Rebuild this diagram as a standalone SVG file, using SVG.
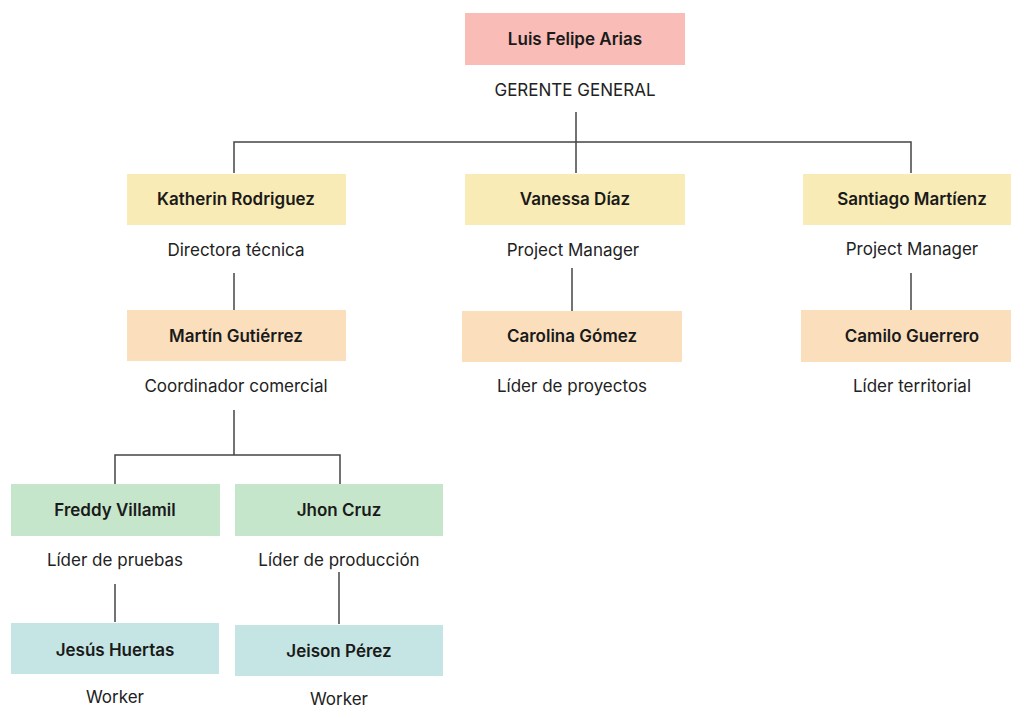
<svg xmlns="http://www.w3.org/2000/svg" width="1011" height="708" viewBox="0 0 1011 708">
  <style>
    .name { font-family: Inter, "Open Sans", "Liberation Sans", sans-serif; font-size: 17px; font-weight: 600; fill: #1a1a1a; text-anchor: middle; }
    .role { font-family: Inter, "Open Sans", "Liberation Sans", sans-serif; font-size: 17px; font-weight: 400; fill: #222; text-anchor: middle; }
    .link { fill: none; stroke: #444; stroke-width: 1.5; }
    .c-top { fill: #f9bcb6; }
    .c-l2 { fill: #f8ebb5; }
    .c-l3 { fill: #fbdfbd; }
    .c-l4 { fill: #c5e6cb; }
    .c-l5 { fill: #c4e5e3; }
  </style>
  <rect width="1011" height="708" fill="#ffffff"/>

  <g id="connectors">
    <path class="link" d="M576 112 V173 M234 173 V142 H911 V173"/>
    <path class="link" d="M234 273 V310"/>
    <path class="link" d="M572 268 V311"/>
    <path class="link" d="M911 273 V310"/>
    <path class="link" d="M234 410 V455 M115 484 V455 H340 V484"/>
    <path class="link" d="M115 584 V622"/>
    <path class="link" d="M339 572 V624"/>
  </g>

  <g id="luis">
    <rect class="c-top" x="465" y="13" width="220" height="52"/>
    <text class="name" x="575" y="45">Luis Felipe Arias</text>
    <text class="role" x="575" y="96">GERENTE GENERAL</text>
  </g>

  <g id="katherin">
    <rect class="c-l2" x="127" y="174" width="219" height="51"/>
    <text class="name" x="236" y="205">Katherin Rodriguez</text>
    <text class="role" x="236" y="256">Directora técnica</text>
  </g>

  <g id="vanessa">
    <rect class="c-l2" x="465" y="174" width="220" height="51"/>
    <text class="name" x="575" y="205">Vanessa Díaz</text>
    <text class="role" x="573" y="256">Project Manager</text>
  </g>

  <g id="santiago">
    <rect class="c-l2" x="803" y="174" width="220" height="51"/>
    <text class="name" x="912" y="205">Santiago Martíenz</text>
    <text class="role" x="912" y="255">Project Manager</text>
  </g>

  <g id="martin">
    <rect class="c-l3" x="127" y="310" width="219" height="51"/>
    <text class="name" x="236" y="342">Martín Gutiérrez</text>
    <text class="role" x="236" y="392">Coordinador comercial</text>
  </g>

  <g id="carolina">
    <rect class="c-l3" x="462" y="311" width="220" height="51"/>
    <text class="name" x="572" y="342">Carolina Gómez</text>
    <text class="role" x="572" y="392">Líder de proyectos</text>
  </g>

  <g id="camilo">
    <rect class="c-l3" x="801" y="310" width="220" height="52"/>
    <text class="name" x="912" y="342">Camilo Guerrero</text>
    <text class="role" x="912" y="392">Líder territorial</text>
  </g>

  <g id="freddy">
    <rect class="c-l4" x="11" y="484" width="209" height="52"/>
    <text class="name" x="115" y="516">Freddy Villamil</text>
    <text class="role" x="115" y="566">Líder de pruebas</text>
  </g>

  <g id="jhon">
    <rect class="c-l4" x="235" y="484" width="208" height="52"/>
    <text class="name" x="339" y="516">Jhon Cruz</text>
    <text class="role" x="339" y="566">Líder de producción</text>
  </g>

  <g id="jesus">
    <rect class="c-l5" x="11" y="623" width="208" height="51"/>
    <text class="name" x="115" y="656">Jesús Huertas</text>
    <text class="role" x="115" y="703">Worker</text>
  </g>

  <g id="jeison">
    <rect class="c-l5" x="235" y="625" width="208" height="51"/>
    <text class="name" x="339" y="657">Jeison Pérez</text>
    <text class="role" x="339" y="705">Worker</text>
  </g>
</svg>
